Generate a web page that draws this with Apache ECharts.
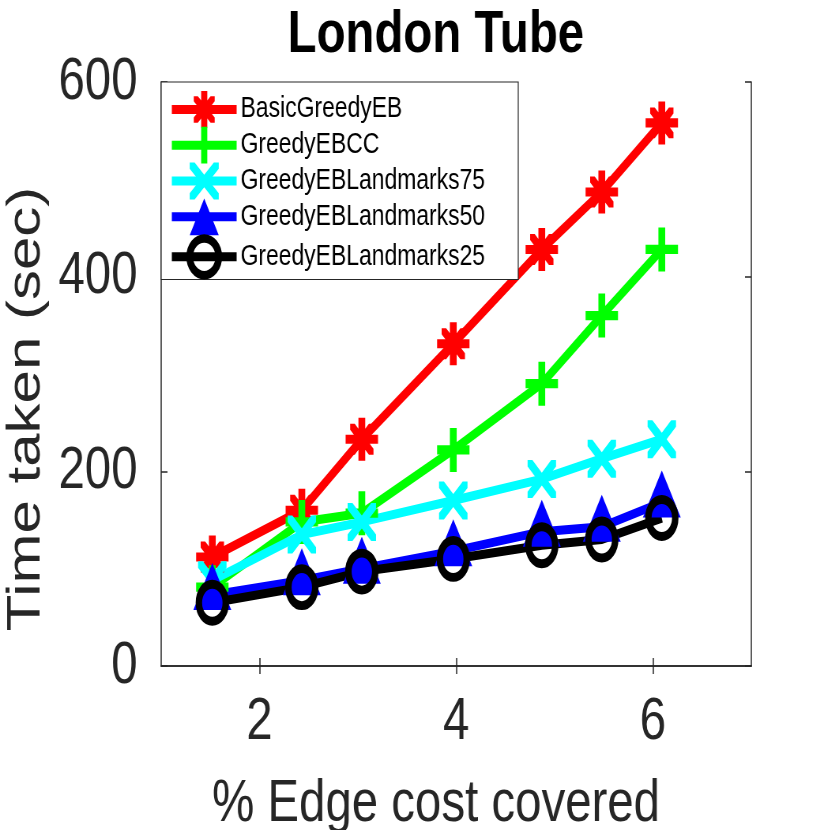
<!DOCTYPE html>
<html>
<head>
<meta charset="utf-8">
<script src="https://cdn.jsdelivr.net/npm/echarts@6/dist/echarts.min.js"></script>
<style>
  html, body { margin: 0; padding: 0; background: #fff; overflow: hidden; }
  /* the original figure is squeezed sideways, so draw wide and squeeze */
  #chart { width: 1051px; height: 830px; transform: scaleX(0.79); transform-origin: 0 0; }
</style>
</head>
<body>
<div id="chart"></div>
<script>
// data
var edgeCost = [1.52, 2.43, 3.04, 3.97, 4.87, 5.48, 6.09];
var basicGreedyEB = [112, 160, 233, 331, 428, 487, 558];
var greedyEBCC = [81, 148, 157, 222, 290, 360, 428];
var landmarks75 = [88, 135, 148, 170, 192, 213, 233];
var landmarks50 = [73, 88, 100, 118, 138, 143, 168];
var landmarks25 = [65, 81, 97, 110, 124, 130, 152];
var seriesNames = ['BasicGreedyEB', 'GreedyEBCC', 'GreedyEBLandmarks75', 'GreedyEBLandmarks50', 'GreedyEBLandmarks25'];
var xTicks = [2, 4, 6];

var FONT = "'Liberation Sans', Arial, Helvetica, sans-serif";
var TXT = '#262626';

// marker shapes (like matlab's + x * markers)
function plusPath(t) {
  var a = 50 - t / 2, b = 50 + t / 2;
  return 'M' + a + ',0 H' + b + ' V' + a + ' H100 V' + b + ' H' + b + ' V100 H' + a + ' V' + b + ' H0 V' + a + ' H' + a + ' Z';
}
function crossPath(lo, hi, w) {
  var m = (lo + hi) / 2;
  var p = [[lo + w, lo], [m, m - w], [hi - w, lo], [hi, lo], [hi, lo + w], [m + w, m], [hi, hi - w], [hi, hi],
           [hi - w, hi], [m, m + w], [lo + w, hi], [lo, hi], [lo, hi - w], [m - w, m], [lo, lo + w], [lo, lo]];
  return 'M' + p.map(function (q) { return q[0] + ',' + q[1]; }).join(' L') + ' Z';
}
var symPlus = 'path://' + plusPath(21);
var symCross = 'path://' + crossPath(0, 100, 17);
var symStar = 'path://' + plusPath(21) + ' ' + crossPath(14, 86, 14);

function pts(ys) {
  return edgeCost.map(function (x, i) { return [x, ys[i]]; });
}

function mkSeries(name, ys, color, symbol, size, extra) {
  var s = {
    name: name,
    type: 'line',
    data: pts(ys),
    symbol: symbol,
    symbolSize: size,
    symbolKeepAspect: false,
    lineStyle: { color: color, width: 9 },
    itemStyle: { color: color, borderWidth: 0 },
    emphasis: { disabled: true },
    animation: false
  };
  for (var k in extra) s[k] = extra[k];
  return s;
}

var chart = echarts.init(document.getElementById('chart'));

var axisCommon = {
  axisLine: { show: true, lineStyle: { color: TXT, width: 1.5 } },
  axisTick: { show: true, inside: true, length: 8, lineStyle: { color: TXT, width: 1.5 } },
  splitLine: { show: false }
};

chart.setOption({
  backgroundColor: '#fff',
  title: {
    text: 'London Tube',
    left: 359,
    top: 0,
    textStyle: { fontFamily: FONT, fontWeight: 'bold', fontSize: 60, color: '#000' }
  },
  legend: {
    orient: 'vertical',
    left: 204,
    top: 82,
    data: seriesNames,
    itemWidth: 82,
    itemHeight: 46,
    itemGap: -1,
    padding: [9, 42, 0, 9],
    backgroundColor: '#fff',
    borderColor: TXT,
    borderWidth: 1.2,
    borderRadius: 0,
    lineStyle: { width: 9 },
    itemStyle: { borderWidth: 'inherit' },
    textStyle: { fontFamily: FONT, fontSize: 29, color: '#000' },
    selectedMode: false,
    z: 10
  },
  grid: { left: 204, right: 100, top: 82, bottom: 164, containLabel: false, outerBoundsMode: 'none' },
  xAxis: [
    Object.assign({
      type: 'value',
      min: 1,
      max: 7,
      name: '% Edge cost covered',
      nameLocation: 'middle',
      nameGap: 108,
      nameTextStyle: { fontFamily: FONT, fontSize: 60, color: TXT, padding: [0, 51, 0, 0] },
      axisLabel: { customValues: xTicks, fontFamily: FONT, fontSize: 60, color: TXT, margin: 26 }
    }, axisCommon, { axisTick: Object.assign({ customValues: xTicks }, axisCommon.axisTick) }),
    Object.assign({
      type: 'value',
      position: 'top',
      min: 1,
      max: 7,
      axisLabel: { show: false }
    }, axisCommon, { axisTick: Object.assign({ customValues: xTicks }, axisCommon.axisTick) })
  ],
  yAxis: [
    Object.assign({
      type: 'value',
      min: 0,
      max: 600,
      interval: 200,
      name: 'Time taken (sec)',
      nameLocation: 'middle',
      nameGap: 94,
      nameTextStyle: { fontFamily: FONT, fontSize: 60, color: TXT, padding: [0, 70, 0, 0] },
      axisLabel: { fontFamily: FONT, fontSize: 60, color: TXT, margin: 30 }
    }, axisCommon),
    Object.assign({
      type: 'value',
      position: 'right',
      min: 0,
      max: 600,
      interval: 200,
      axisLabel: { show: false }
    }, axisCommon)
  ],
  series: [
    mkSeries(seriesNames[0], basicGreedyEB, '#ff0000', symStar, [41, 43]),
    mkSeries(seriesNames[1], greedyEBCC, '#00ff00', symPlus, [41, 44]),
    mkSeries(seriesNames[2], landmarks75, '#00ffff', symCross, [36, 38]),
    mkSeries(seriesNames[3], landmarks50, '#0000ff', 'triangle', [48, 47], { symbolOffset: [0, -8.5] }),
    mkSeries(seriesNames[4], landmarks25, '#000000', 'circle', [34, 37], {
      itemStyle: { color: 'rgba(0,0,0,0)', borderColor: '#000', borderWidth: 8.5 }
    })
  ]
});
</script>
</body>
</html>
